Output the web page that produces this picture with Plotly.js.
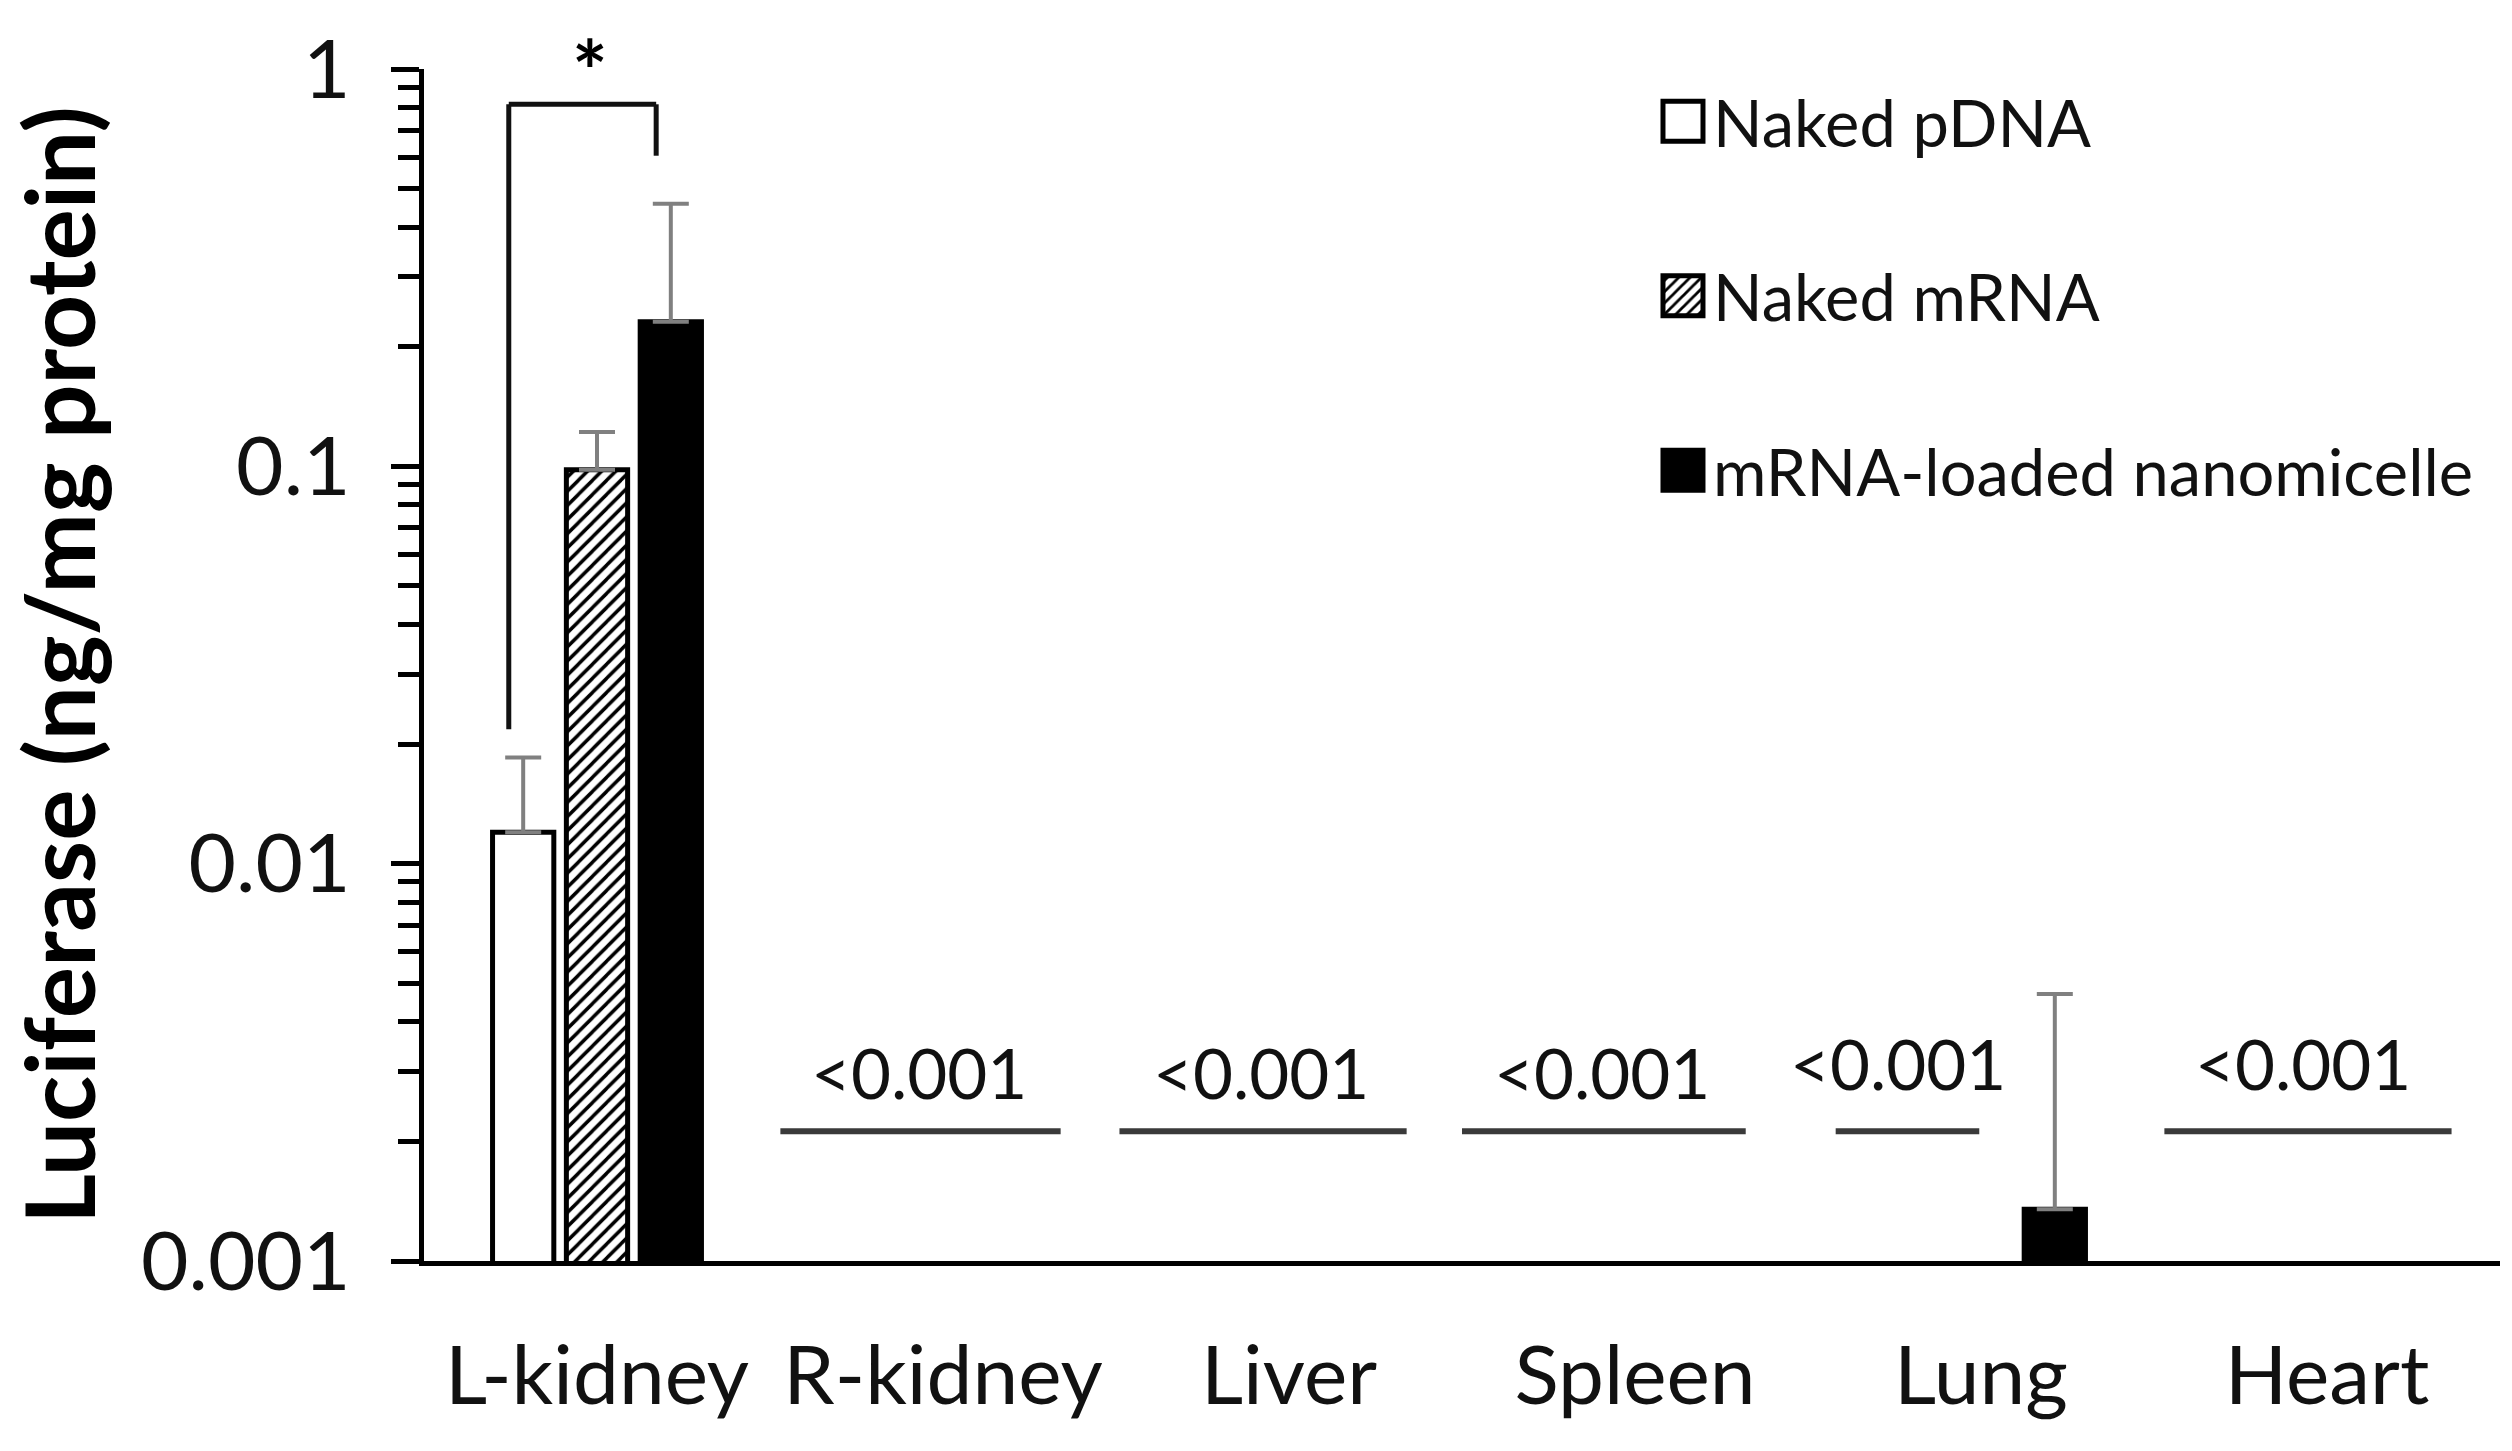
<!DOCTYPE html>
<html><head><meta charset="utf-8">
<script src="https://cdn.plot.ly/plotly-3.0.1.min.js"></script>
<style>html,body{margin:0;padding:0;background:#fff}#chart{width:2512px;height:1451px}</style>
</head><body><div id="chart"></div>
<script>
// ---- data ----
const categories = ['L-kidney', 'R-kidney', 'Liver', 'Spleen', 'Lung', 'Heart'];
const seriesNames = ['Naked pDNA', 'Naked mRNA', 'mRNA-loaded nanomicelle'];
const pdnaMean = [0.0120, null, null, null, null, null];
const pdnaUpper = [0.0185, null, null, null, null, null];
const mrnaMean = [0.098, null, null, null, null, null];
const mrnaUpper = [0.122, null, null, null, null, null];
const micelleMean = [0.231, null, null, null, 0.00135, null];
const micelleUpper = [0.458, null, null, null, 0.0047, null];
const belowLimitOrgans = ['R-kidney', 'Liver', 'Spleen', 'Lung', 'Heart'];
const belowLimitText = '&lt;0.001';
const yTickVals = [0.001, 0.01, 0.1, 1];
const yTickText = ['0.001', '0.01', '0.1', '1'];
const yTitle = 'Luciferase (ng/mg protein)';
const sigText = '*';

// ---- build ----
function errPlus(mean, upper) { return mean.map((m, i) => (m == null || upper[i] == null) ? null : upper[i] - m); }
const errStyle = { type: 'data', symmetric: false, color: '#808080', thickness: 4, width: 18 };

const traces = [
  { type: 'bar', name: seriesNames[0], x: categories, y: pdnaMean, legendgroup: 'a',
    marker: { color: '#ffffff', line: { color: '#000', width: 5 } },
    error_y: Object.assign({ array: errPlus(pdnaMean, pdnaUpper), arrayminus: pdnaMean.map(() => 0) }, errStyle) },
  { type: 'bar', name: seriesNames[1], x: categories, y: mrnaMean, legendgroup: 'b',
    marker: { color: '#ffffff', line: { color: '#000', width: 5 },
      pattern: { shape: '/', fgcolor: '#000', bgcolor: '#fff', size: 10, solidity: 0.35, fillmode: 'replace' } },
    error_y: Object.assign({ array: errPlus(mrnaMean, mrnaUpper), arrayminus: mrnaMean.map(() => 0) }, errStyle) },
  { type: 'bar', name: seriesNames[2], x: categories, y: micelleMean, legendgroup: 'c',
    marker: { color: '#000000', line: { color: '#000', width: 5 } },
    error_y: Object.assign({ array: errPlus(micelleMean, micelleUpper), arrayminus: micelleMean.map(() => 0) }, errStyle) }
];

const minorVals = [];
for (let e = -3; e < 0; e++) for (let d = 2; d <= 9; d++) minorVals.push(d * Math.pow(10, e));

// layout positions for the "<0.001" marks (category-relative offsets)
const limitLineSpan = { 'R-kidney': [-0.47, 0.34], 'Liver': [-0.49, 0.34], 'Spleen': [-0.5, 0.32], 'Lung': [-0.42, -0.005], 'Heart': [-0.47, 0.36] };
const limitTextShift = { 'R-kidney': [-0.07, -2.525], 'Liver': [-0.08, -2.525], 'Spleen': [-0.095, -2.525], 'Lung': [-0.24, -2.502], 'Heart': [-0.07, -2.502] };
const limitLineY = 0.00212;

const shapes = [];
const annotations = [];
belowLimitOrgans.forEach(org => {
  const ci = categories.indexOf(org);
  const sp = limitLineSpan[org];
  shapes.push({ type: 'line', xref: 'x', yref: 'y', x0: ci + sp[0], x1: ci + sp[1], y0: limitLineY, y1: limitLineY,
    line: { color: '#3a3a3a', width: 6 } });
  const ts = limitTextShift[org];
  annotations.push({ xref: 'x', yref: 'y', x: ci + ts[0], y: ts[1], text: belowLimitText, showarrow: false,
    font: { size: 69, color: '#111' }, xanchor: 'center', yanchor: 'middle' });
});
// significance bracket on L-kidney
const bx0 = -0.255, bx1 = 0.171, bTop = 0.815;
shapes.push({ type: 'line', xref: 'x', yref: 'y', x0: bx0, x1: bx0, y0: 0.0218, y1: bTop, line: { color: '#111', width: 5 } });
shapes.push({ type: 'line', xref: 'x', yref: 'y', x0: bx0, x1: bx1, y0: bTop, y1: bTop, line: { color: '#111', width: 5 } });
shapes.push({ type: 'line', xref: 'x', yref: 'y', x0: bx1, x1: bx1, y0: bTop, y1: 0.605, line: { color: '#111', width: 5 } });
annotations.push({ xref: 'x', yref: 'y', x: -0.02, y: 0.0, text: sigText, showarrow: false,
  font: { size: 84, weight: 700, color: '#000' }, xanchor: 'center', yanchor: 'middle' });

const layout = {
  width: 2512, height: 1451,
  margin: { l: 424, r: 12, t: 69, b: 190, pad: 0 },
  paper_bgcolor: '#fff', plot_bgcolor: '#fff',
  font: { family: 'Lato, "Open Sans", sans-serif', color: '#111', size: 60 },
  barmode: 'group', bargap: 0.36, bargroupgap: 0.17,
  showlegend: true,
  legend: { x: 0.592, y: 0.997, xanchor: 'left', yanchor: 'top', font: { size: 65, color: '#111' },
    traceorder: 'grouped', tracegroupgap: 87, itemwidth: 50, bgcolor: 'rgba(0,0,0,0)' },
  xaxis: { type: 'category', showline: true, linecolor: '#000', linewidth: 5, ticks: '', showgrid: false,
    zeroline: false, tickfont: { size: 82, color: '#111' }, ticklabelstandoff: 40, automargin: false },
  yaxis: { type: 'log', range: [-3, 0], showline: true, linecolor: '#000', linewidth: 5,
    ticks: 'outside', ticklen: 28, tickwidth: 5, tickcolor: '#000',
    tickmode: 'array', tickvals: yTickVals, ticktext: yTickText,
    tickfont: { size: 82, color: '#111' }, ticklabelstandoff: 24,
    minor: { tickmode: 'array', tickvals: minorVals, ticks: 'outside', ticklen: 21, tickwidth: 5, tickcolor: '#000', showgrid: false },
    showgrid: false, zeroline: false, automargin: false,
    title: { text: yTitle, font: { size: 96, weight: 700, color: '#000' }, standoff: 18 } },
  shapes: shapes,
  annotations: annotations
};

Plotly.newPlot('chart', traces, layout, { staticPlot: true, displayModeBar: false }).then(gd => {
  gd.querySelectorAll('.legend .legendpoints path').forEach(p => {
    p.setAttribute('d', 'M20,20H-20V-20H20Z');
  });
});
</script></body></html>
